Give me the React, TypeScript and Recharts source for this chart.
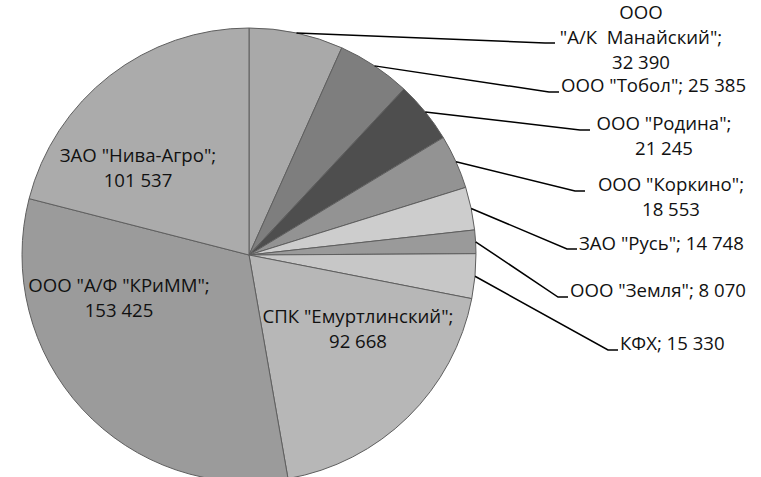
import { PieChart, Pie, Cell } from 'recharts';

// Farm names and values, clockwise from 12 o'clock
const names = [
  'ООО "А/К  Манайский"',
  'ООО "Тобол"',
  'ООО "Родина"',
  'ООО "Коркино"',
  'ЗАО "Русь"',
  'ООО "Земля"',
  'КФХ',
  'СПК "Емуртлинский"',
  'ООО "А/Ф "КРиММ"',
  'ЗАО "Нива-Агро"',
];
const values = [32390, 25385, 21245, 18553, 14748, 8070, 15330, 92668, 153425, 101537];

const colors = [
  '#a9a9a9', '#7e7e7e', '#4e4e4e', '#939393', '#cdcdcd',
  '#9a9a9a', '#c7c7c7', '#b7b7b7', '#9b9b9b', '#ababab',
];

// label placement: mode, leader line end (ex, ey) or none, text x and first baseline
type LabelPos = { mode: 'one' | 'two' | 'three'; ex?: number; ey?: number; tx: number; ty: number };
const labelPos: LabelPos[] = [
  { mode: 'three', ex: 555, ey: 43, tx: 641, ty: 19 },
  { mode: 'one', ex: 559, ey: 92, tx: 561, ty: 92 },
  { mode: 'two', ex: 590, ey: 130, tx: 664, ty: 130 },
  { mode: 'two', ex: 585, ey: 191, tx: 671, ty: 191 },
  { mode: 'one', ex: 577, ey: 249, tx: 579, ty: 250 },
  { mode: 'one', ex: 568, ey: 297, tx: 570, ty: 297 },
  { mode: 'one', ex: 618, ey: 350, tx: 620, ty: 350 },
  { mode: 'two', tx: 358, ty: 323 },
  { mode: 'two', tx: 119, ty: 292 },
  { mode: 'two', tx: 138, ty: 162 },
];

const data = names.map((name, i) => ({ name, value: values[i] }));

const fmt = (v: number) => String(v).replace(/\B(?=(\d{3})+(?!\d))/g, ' ');

const RAD = Math.PI / 180;
const LINE_STEP = 25;

function labelLines(i: number): string[] {
  const name = names[i];
  const val = fmt(values[i]);
  const mode = labelPos[i].mode;
  if (mode === 'one') return [`${name}; ${val}`];
  if (mode === 'two') return [`${name};`, val];
  const sp = name.indexOf(' ');
  return [name.slice(0, sp), `${name.slice(sp + 1)};`, val];
}

const renderLabel = (props: any) => {
  const { cx, cy, midAngle, outerRadius, index } = props;
  const pos = labelPos[index];
  const lines = labelLines(index);
  const sx = cx + outerRadius * Math.cos(-midAngle * RAD);
  const sy = cy + outerRadius * Math.sin(-midAngle * RAD);
  const anchor = pos.mode === 'one' ? 'start' : 'middle';
  return (
    <g key={`lbl-${index}`}>
      {pos.ex !== undefined && pos.ey !== undefined && (
        <polyline
          points={`${sx},${sy} ${pos.ex - 10},${pos.ey} ${pos.ex},${pos.ey}`}
          fill="none"
          stroke="#000"
          strokeWidth={1.5}
        />
      )}
      <text
        x={pos.tx}
        y={pos.ty}
        textAnchor={anchor}
        fill="#111"
        style={{ fontFamily: '"Open Sans", sans-serif', fontSize: 18.6 }}
      >
        {lines.map((l, k) => (
          <tspan key={k} x={pos.tx} y={pos.ty + k * LINE_STEP} style={{ whiteSpace: 'pre' }}>
            {l}
          </tspan>
        ))}
      </text>
    </g>
  );
};

export default function App() {
  return (
    <div style={{ position: 'absolute', left: 0, top: 0, background: '#fff' }}>
      <PieChart width={761} height={477}>
        <Pie
          data={data}
          dataKey="value"
          nameKey="name"
          cx={244}
          cy={250}
          outerRadius={227}
          startAngle={90}
          endAngle={-270}
          stroke="#5f5f5f"
          strokeWidth={1}
          label={renderLabel}
          labelLine={false}
          isAnimationActive={false}
        >
          {data.map((_, i) => (
            <Cell key={`cell-${i}`} fill={colors[i]} />
          ))}
        </Pie>
      </PieChart>
    </div>
  );
}
